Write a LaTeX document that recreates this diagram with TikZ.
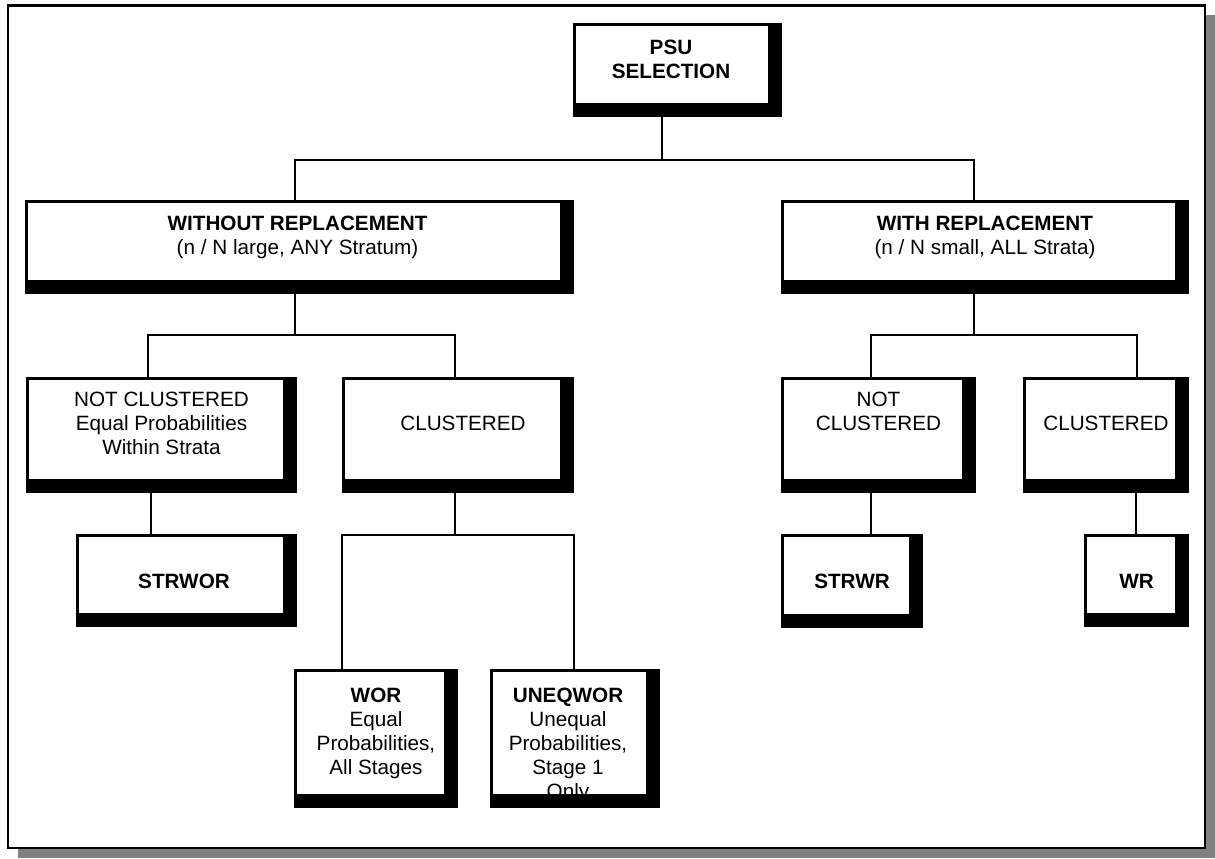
\documentclass[tikz,border=0pt]{standalone}
\usepackage{fontspec}
\setmainfont{Liberation Sans}
\usetikzlibrary{positioning}
\tikzstyle{shbox} = [anchor=north west, inner sep=0pt, outer sep=0pt, fill=black, path picture={\fill[white] ([xshift=1.35pt,yshift=-1.35pt]path picture bounding box.north west) rectangle ([xshift=-7pt,yshift=7pt]path picture bounding box.south east);}]
\tikzstyle{txt} = [align=center, inner sep=0pt, font=\fontsize{10.35}{12}\selectfont]

\begin{document}
\begin{tikzpicture}[x=0.5pt, y=-0.5pt, line width=1.35pt, bold/.style={font=\fontsize{10.35}{12}\selectfont\bfseries}]
\useasboundingbox (0,0) rectangle (1215,858);

% Frame
\fill[black!50] (18,15) rectangle (1215,858);
\draw[fill=white] (8,5.5) rectangle (1205,848);

% Define nodes
\node[shbox, minimum width=104.5pt, minimum height=47pt]   (psu)    at (573,23)   {};
\node[shbox, minimum width=274.5pt, minimum height=47pt]   (wo)     at (25,200)   {};
\node[shbox, minimum width=204pt,   minimum height=47pt]   (wi)     at (781,200)  {};
\node[shbox, minimum width=135.5pt, minimum height=58pt]   (ncl)    at (26,377)   {};
\node[shbox, minimum width=116pt,   minimum height=58pt]   (cl)     at (342,377)  {};
\node[shbox, minimum width=97.5pt,  minimum height=58pt]   (ncr)    at (781,377)  {};
\node[shbox, minimum width=83pt,    minimum height=58pt]   (clr)    at (1023,377) {};
\node[shbox, minimum width=110.5pt, minimum height=46.5pt] (strwor) at (76,534)   {};
\node[shbox, minimum width=71pt,    minimum height=47pt]   (strwr)  at (781,534)  {};
\node[shbox, minimum width=52.5pt,  minimum height=46.5pt] (wr)     at (1084,534) {};
\node[shbox, minimum width=82pt,    minimum height=69.5pt] (wor)    at (294,669)  {};
\node[shbox, minimum width=85pt,    minimum height=69.5pt] (uneq)   at (490,669)  {};

% Texts
\node[txt, bold, below=8pt of psu.north, xshift=-3.25pt]  (psu-t)    {PSU\\SELECTION};
\node[txt, below=7.5pt of wo.north, xshift=-1pt]          (wo-t)     {\textbf{WITHOUT REPLACEMENT}\\(n / N large, ANY Stratum)};
\node[txt, below=7.5pt of wi.north]                       (wi-t)     {\textbf{WITH REPLACEMENT}\\(n / N small, ALL Strata)};
\node[txt, below=7pt of ncl.north]                        (ncl-t)    {NOT CLUSTERED\\Equal Probabilities\\Within Strata};
\node[txt, below=19pt of cl.north, xshift=2.5pt]          (cl-t)     {CLUSTERED};
\node[txt, below=7pt of ncr.north]                        (ncr-t)    {NOT\\CLUSTERED};
\node[txt, below=19pt of clr.north]                       (clr-t)    {CLUSTERED};
\node[txt, bold, below=19.5pt of strwor.north, xshift=-1.25pt] (strwor-t) {STRWOR};
\node[txt, bold, below=19.5pt of strwr.north]             (strwr-t)  {STRWR};
\node[txt, bold, below=19.5pt of wr.north]                (wr-t)     {WR};
\node[txt, below=9pt of wor.north]                        (wor-t)    {\textbf{WOR}\\Equal\\Probabilities,\\All Stages};
\node[txt, below=9pt of uneq.north, xshift=-3.5pt]        (uneq-t)   {\textbf{UNEQWOR}\\Unequal\\Probabilities,\\Stage 1\\Only};

% Edges
\draw ([xshift=-7.75pt]psu.south) -- ++(0,43) coordinate (top);
\draw ([xshift=-2.25pt]wo.north) |- (top) -| ([xshift=-5.5pt]wi.north);

\draw ([xshift=-2.25pt]wo.south) -- ++(0,41) coordinate (lbus);
\draw ([xshift=-6.75pt]ncl.north) |- (lbus) -| ([xshift=-1.5pt]cl.north);
\draw ([xshift=-5.5pt]wi.south) -- ++(0,41) coordinate (rbus);
\draw ([xshift=-3.75pt]ncr.north) |- (rbus) -| ([xshift=15.5pt]clr.north);

\draw ([xshift=-5.25pt]ncl.south) -- ([xshift=-5.25pt]ncl.south |- strwor.north);
\draw ([xshift=-3.75pt]ncr.south) -- ([xshift=-3.75pt]ncr.south |- strwr.north);
\draw ([xshift=15pt]clr.south) -- ([xshift=15pt]clr.south |- wr.north);

\draw ([xshift=-1.5pt]cl.south) -- ++(0,42) coordinate (cbus);
\draw ([xshift=-17pt]wor.north) |- (cbus) -| ([xshift=-0.5pt]uneq.north);
\end{tikzpicture}
\end{document}
